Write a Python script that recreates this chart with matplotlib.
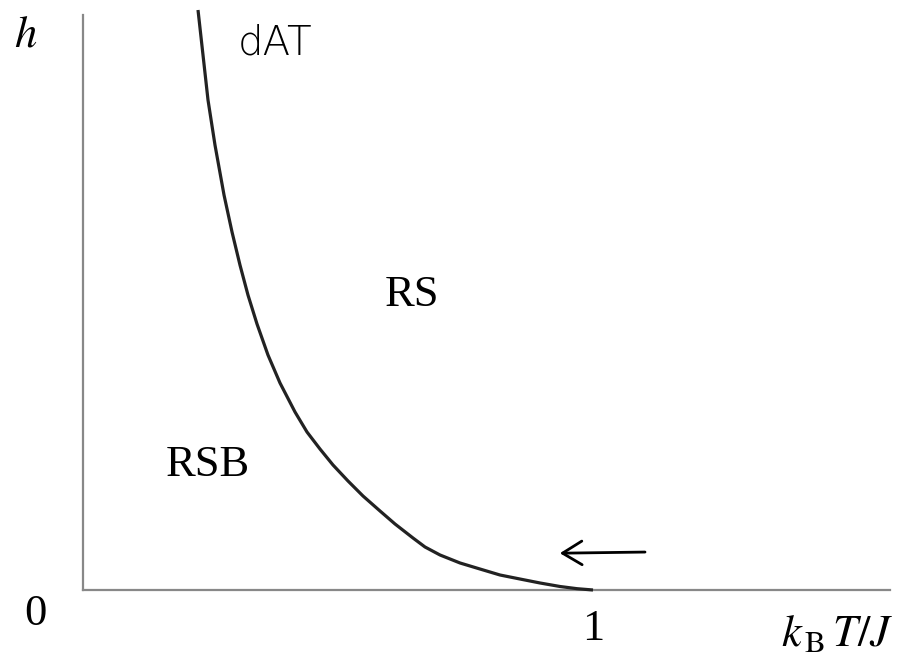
import matplotlib
matplotlib.use("Agg")
import matplotlib.pyplot as plt

# de Almeida-Thouless line (k_B T/J, h)
temp = [0.2255, 0.2353, 0.2451, 0.2588, 0.2765, 0.2922, 0.3078, 0.3235,
        0.3412, 0.3627, 0.3863, 0.4157, 0.4392, 0.4647, 0.4902, 0.5196,
        0.5490, 0.5824, 0.6118, 0.6471, 0.6706, 0.7000, 0.7392, 0.7784,
        0.8176, 0.8569, 0.8961, 0.9353, 0.9686, 1.0]
field = [1.0087, 0.9304, 0.8522, 0.7739, 0.6870, 0.6226, 0.5652, 0.5130,
         0.4626, 0.4087, 0.3600, 0.3096, 0.2748, 0.2452, 0.2174, 0.1896,
         0.1635, 0.1374, 0.1148, 0.0904, 0.0748, 0.0609, 0.0470, 0.0365,
         0.0261, 0.0191, 0.0122, 0.0061, 0.0023, 0.0]

region_labels = ["RS", "RSB"]
region_pos = [(0.645, 0.513), (0.245, 0.218)]
curve_label = "dAT"
arrow_tip = (0.935, 0.064)
arrow_tail = (1.102, 0.066)

W, H = 899, 664
fig = plt.figure(figsize=(W / 100, H / 100), dpi=100)
ax = fig.add_axes([83 / W, (H - 590) / H, (890 - 83) / W, (590 - 15) / H])
ax.set_xlim(0, (890 - 83) / 510)
ax.set_ylim(0, 1.0)

for s in ["top", "right"]:
    ax.spines[s].set_visible(False)
for s in ["left", "bottom"]:
    ax.spines[s].set_color("#888888")
    ax.spines[s].set_linewidth(1.6)
ax.set_xticks([])
ax.set_yticks([])

ax.plot(temp, field, color="#222222", lw=2.3, clip_on=False,
        solid_capstyle="butt", solid_joinstyle="round", zorder=3)

serif = "Liberation Serif"
for lab, (x, y) in zip(region_labels, region_pos):
    ax.text(x, y, lab, fontsize=32, family=serif, ha="center", va="center")

ax.text(0.376, 0.952, curve_label, fontsize=29, family="DejaVu Sans",
        fontweight="light", ha="center", va="center", color="black")

ax.annotate("", xy=arrow_tip, xytext=arrow_tail,
            arrowprops=dict(arrowstyle="->,head_length=1.4,head_width=0.85",
                            lw=2.0, color="black", shrinkA=0, shrinkB=0,
                            mutation_scale=10),
            annotation_clip=False)

plt.rcParams["mathtext.fontset"] = "stix"
fig.text(26 / W, 1 - 34 / H, r"$h$", fontsize=32, ha="center", va="center")
fig.text(35 / W, 1 - 614 / H, "0", fontsize=32, family=serif,
         ha="center", va="center")
fig.text(593 / W, 1 - 629 / H, "1", fontsize=32, family=serif,
         ha="center", va="center")
fig.text(837 / W, 1 - 633 / H, r"$k_{\,\mathrm{B}}\,T/J$", fontsize=32,
         ha="center", va="center")

fig.savefig("out.png", dpi=100)
